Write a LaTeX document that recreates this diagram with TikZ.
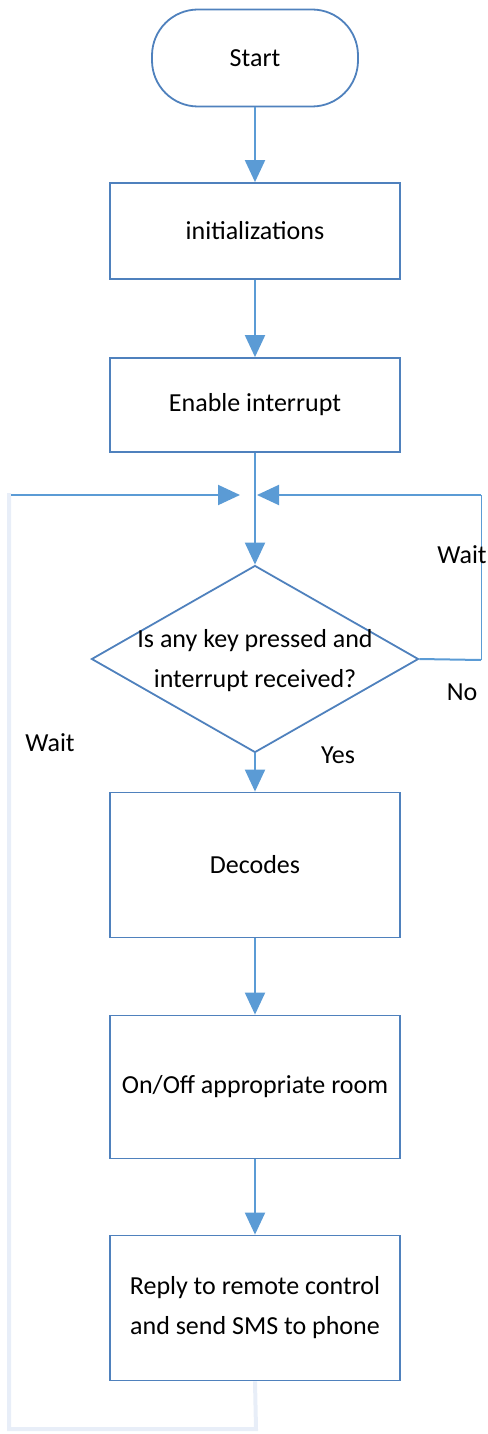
\documentclass[tikz,border=0pt]{standalone}
\usepackage{fontspec}
\setmainfont{Carlito}
\usetikzlibrary{arrows.meta,shapes.geometric}
\definecolor{flowline}{HTML}{5B9BD5}
\definecolor{boxline}{HTML}{4F81BD}
\definecolor{paleline}{HTML}{E8EEF8}
\begin{document}
\begin{tikzpicture}[x=1pt,y=-1pt,
  txt/.style={font=\fontsize{26}{40}\selectfont,align=center,inner sep=0pt},
  procbox/.style={draw=boxline,line width=1.8pt,fill=white,minimum width=290pt,minimum height=#1,inner sep=0pt},
  arr/.style={draw=flowline,line width=2pt,-{Triangle[length=22pt,width=20pt]}},
  flow/.style={draw=flowline,line width=2pt},
  thinflow/.style={draw=flowline,line width=1pt},
  pale/.style={draw=paleline,line width=4pt}
]
\useasboundingbox (0,0) rectangle (487,1434);

% terminal and process boxes
\node[draw=boxline,line width=1.8pt,fill=white,rounded corners=46pt,minimum width=206pt,minimum height=97pt,txt] (start) at (255,58) {Start};
\node[procbox=96pt,txt] (init) at (255,231) {initializations};
\node[procbox=94pt,txt] (enable) at (255,405) {Enable interrupt};

% decision
\node[draw=boxline,line width=1.8pt,fill=white,shape=diamond,minimum width=327pt,minimum height=187pt,inner sep=0pt] (dec) at (255,659) {};
\node[txt] (dectxt) at (255,661) {Is any key pressed and\\interrupt received?};

\node[procbox=145pt,txt] (decode) at (255,865) {Decodes};
\node[procbox=143pt,txt] (onoff) at (255,1087) {On/Off appropriate room};
\node[procbox=145pt,txt] (reply) at (255,1308) {Reply to remote control\\and send SMS to phone};

% join point above the decision
\coordinate (leftin) at (240,495);
\coordinate (rightin) at (257,495);
\coordinate (lefttop) at (11,495);
\coordinate (righttop) at (481,495);
\coordinate (rightmid) at (481,660);
\coordinate (botmid) at (256,1429);
\coordinate (botleft) at (9,1429);
\coordinate (lefttopp) at (9,493);

% main flow
\draw[arr] (start.south) -- (init.north);
\draw[arr] (init.south) -- (enable.north);
\draw[arr] (enable.south) -- (dec.north);
\draw[arr] (dec.south) -- (decode.north);
\draw[arr] (decode.south) -- (onoff.north);
\draw[arr] (onoff.south) -- (reply.north);

% "No" branch back to the top
\draw[flow] (dec.east) -- (rightmid);
\draw[thinflow] (rightmid) -- (righttop);
\draw[arr] (righttop) -- (rightin);

% return loop after replying
\draw[pale] (reply.south) -- (botmid) -- (botleft) -- (lefttopp);
\draw[arr] (lefttop) -- (leftin);

% labels
\node[txt] (waitr) at (462,555) {Wait};
\node[txt] (nolbl) at (462,692) {No};
\node[txt] (yeslbl) at (338,755) {Yes};
\node[txt] (waitl) at (50,743) {Wait};
\end{tikzpicture}
\end{document}
